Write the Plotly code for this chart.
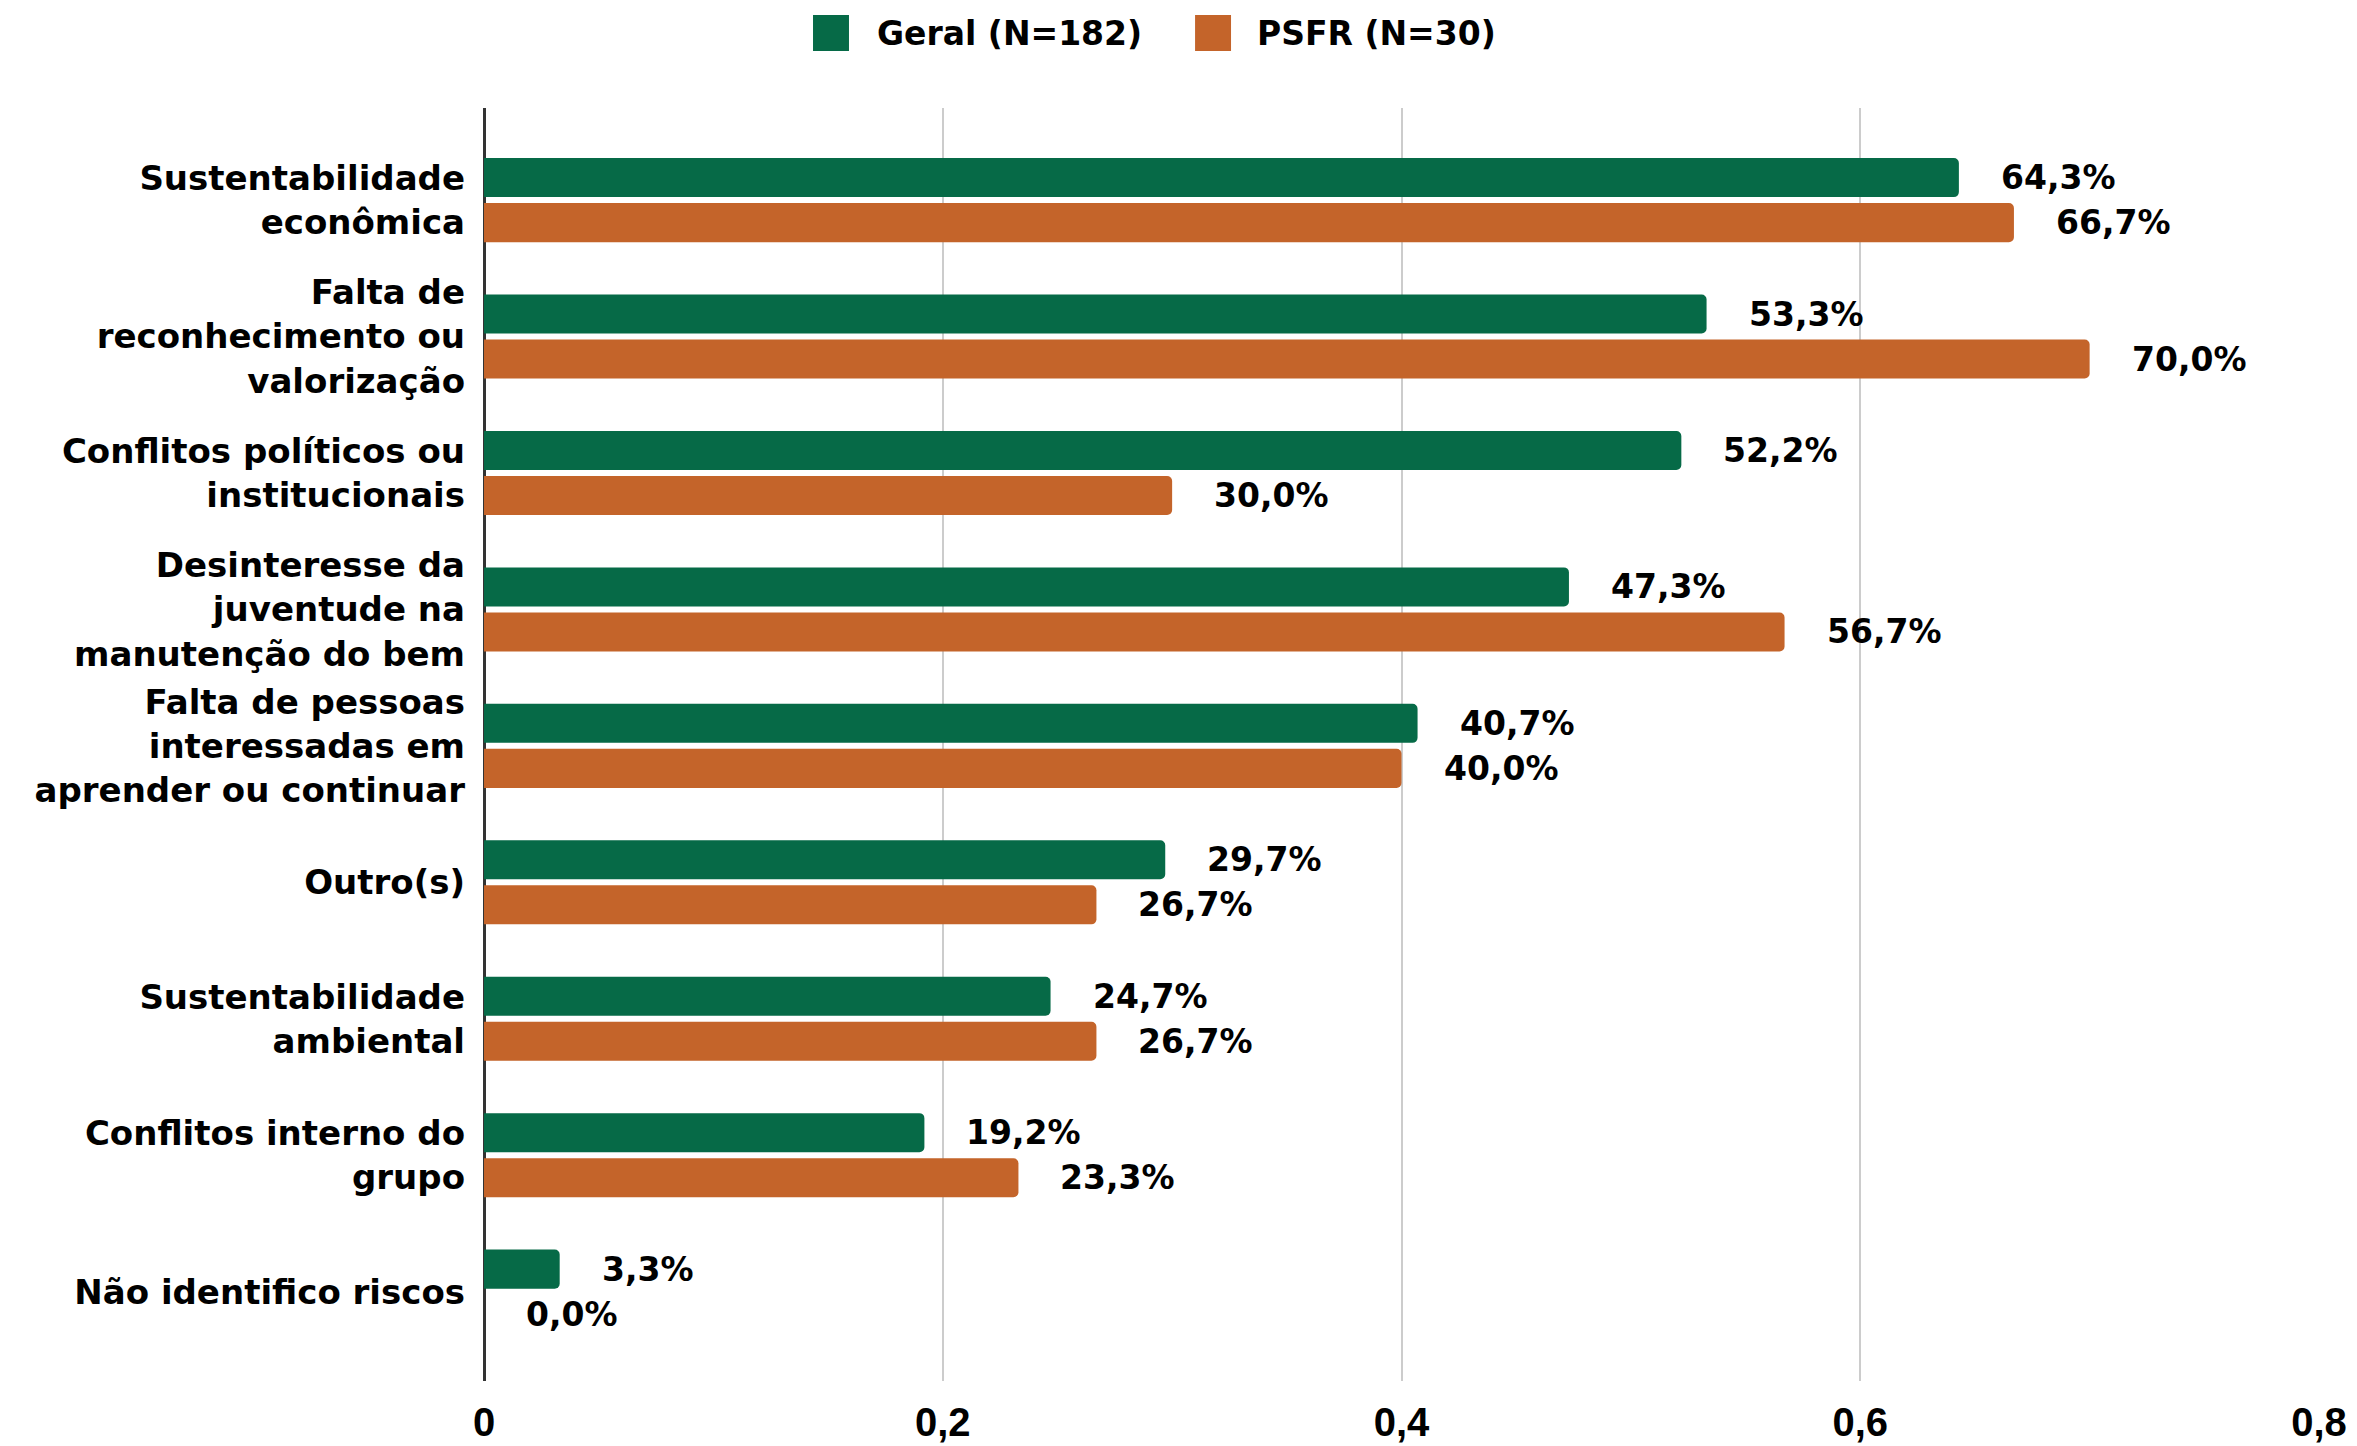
import plotly.graph_objects as go

categories = [
    "Sustentabilidade<br>econômica",
    "Falta de<br>reconhecimento ou<br>valorização",
    "Conflitos políticos ou<br>institucionais",
    "Desinteresse da<br>juventude na<br>manutenção do bem",
    "Falta de pessoas<br>interessadas em<br>aprender ou continuar",
    "Outro(s)",
    "Sustentabilidade<br>ambiental",
    "Conflitos interno do<br>grupo",
    "Não identifico riscos",
]
geral_pct = [64.3, 53.3, 52.2, 47.3, 40.7, 29.7, 24.7, 19.2, 3.3]
psfr_pct = [66.7, 70.0, 30.0, 56.7, 40.0, 26.7, 26.7, 23.3, 0.0]
series_names = ["Geral (N=182)", "PSFR (N=30)"]
tick_vals = [0, 0.2, 0.4, 0.6, 0.8]
tick_text = ["0", "0,2", "0,4", "0,6", "0,8"]

GREEN = "#066a47"
ORANGE = "#c4642a"
FONT = "DejaVu Sans"

geral = [v / 100 for v in geral_pct]
psfr = [v / 100 for v in psfr_pct]


def fmt(v):
    return f"{v:.1f}%".replace(".", ",")


fig = go.Figure()
fig.add_trace(go.Bar(y=categories, x=geral, orientation="h", name=series_names[0],
                     marker=dict(color=GREEN, line=dict(width=0)), showlegend=False))
fig.add_trace(go.Bar(y=categories, x=psfr, orientation="h", name=series_names[1],
                     marker=dict(color=ORANGE, line=dict(width=0)), showlegend=False))

annotations = []
for vals, pcts, ys in ((geral, geral_pct, 22.5), (psfr, psfr_pct, -22.5)):
    for c, v, p in zip(categories, vals, pcts):
        annotations.append(dict(
            x=v, y=c, xref="x", yref="y", text=fmt(p), showarrow=False,
            xanchor="left", yanchor="middle", xshift=40, yshift=ys,
            font=dict(family=FONT, size=33, color="#000000", weight="bold"),
        ))

# custom legend (large square swatches)
legend_items = [(series_names[0], GREEN, 0.1793, 0.2131), (series_names[1], ORANGE, 0.3875, 0.4202)]
shapes = []
for name, col, sx, tx in legend_items:
    shapes.append(dict(type="rect", xref="paper", yref="paper",
                       x0=sx, x1=sx + 0.0196, y0=1.0448, y1=1.0731,
                       fillcolor=col, line=dict(width=0)))
    annotations.append(dict(x=tx, y=1.0589, xref="paper", yref="paper", text=name,
                            showarrow=False, xanchor="left", yanchor="middle",
                            font=dict(family=FONT, size=33, color="#000000", weight="bold")))

fig.update_layout(
    width=2357, height=1446,
    margin=dict(l=476, r=46, t=100, b=73, autoexpand=False),
    paper_bgcolor="white", plot_bgcolor="white",
    barmode="group", bargap=0.34, bargroupgap=0.133, barcornerradius=5,
    separators=",.",
    annotations=annotations, shapes=shapes,
    xaxis=dict(range=[0, 0.8], tickvals=tick_vals, ticktext=tick_text,
               showgrid=True, gridcolor="#cccccc", gridwidth=2,
               zeroline=True, zerolinecolor="#333333", zerolinewidth=3,
               showline=False, ticks="", automargin=False, ticklabelstandoff=14,
               tickfont=dict(family="Liberation Sans", size=40, color="#000000", weight="bold")),
    yaxis=dict(type="category", range=[8.655, -0.675], showgrid=False, zeroline=False,
               showline=False, ticks="", ticklabelstandoff=18, automargin=False,
               tickfont=dict(family=FONT, size=34, color="#000000", weight="bold")),
)

fig.write_html("out.html")
